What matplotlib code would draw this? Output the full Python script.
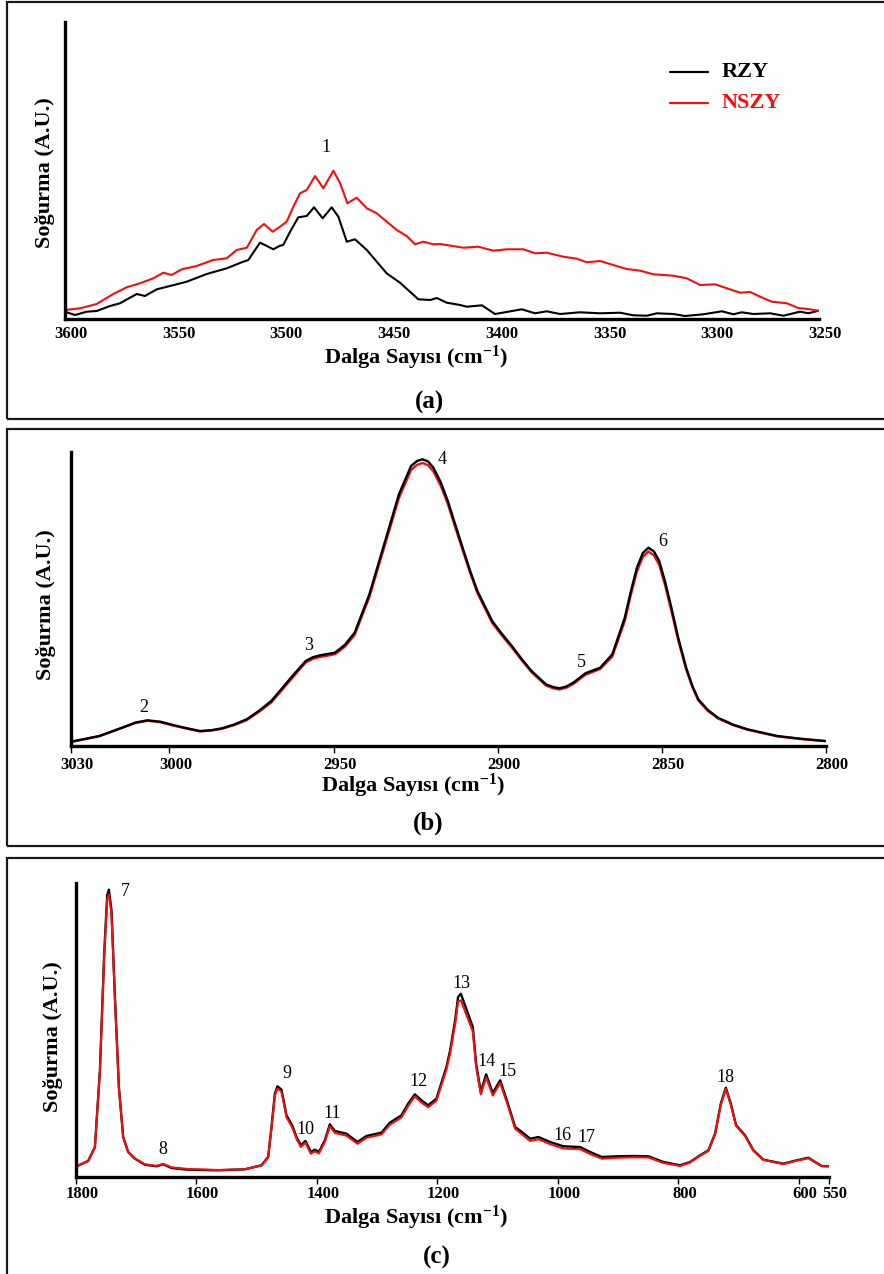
import matplotlib
matplotlib.use('Agg')
import matplotlib.pyplot as plt
from matplotlib.patches import Rectangle
from matplotlib.lines import Line2D
from matplotlib.transforms import ScaledTranslation

plt.rcParams['font.family'] = ['Liberation Serif', 'DejaVu Serif']
plt.rcParams['mathtext.fontset'] = 'custom'
plt.rcParams['mathtext.rm'] = 'Liberation Serif:bold'
plt.rcParams['mathtext.it'] = 'Liberation Serif:italic:bold'
plt.rcParams['mathtext.bf'] = 'Liberation Serif:bold'
plt.rcParams['lines.solid_joinstyle'] = 'round'
plt.rcParams['lines.solid_capstyle'] = 'round'

# ---------------- data (a) ----------------
wn_a_rzy = [3600, 3595.4, 3589.9, 3585.3, 3579.1, 3574.5, 3566.7, 3562.9, 3557.4, 3551.3,
            3543.5, 3534.2, 3524.9, 3518.0, 3514.9, 3511.8, 3509.5, 3507.2, 3503.3, 3500.2,
            3498.7, 3495.5, 3491.7, 3487.8, 3484.4, 3480.4, 3476.2, 3473.1, 3469.2, 3465.4,
            3459.9, 3450.7, 3444.5, 3436.0, 3430.5, 3427.4, 3422.8, 3416.6, 3413.5, 3406.5,
            3400.4, 3395.0, 3388.0, 3381.8, 3376.4, 3370.2, 3360.9, 3351.6, 3342.3, 3336.2,
            3329.9, 3325.3, 3317.6, 3312.2, 3303.7, 3295.1, 3289.7, 3285.9, 3280.5, 3272.7,
            3266.5, 3258.8, 3254.9, 3250.3]
abs_a_rzy = [0.073, 0.040, 0.073, 0.080, 0.130, 0.157, 0.250, 0.230, 0.297, 0.330,
             0.373, 0.450, 0.507, 0.567, 0.590, 0.690, 0.763, 0.740, 0.697, 0.733,
             0.740, 0.873, 1.017, 1.030, 1.117, 1.007, 1.117, 1.023, 0.773, 0.797,
             0.690, 0.457, 0.363, 0.197, 0.190, 0.210, 0.163, 0.140, 0.123, 0.137,
             0.050, 0.070, 0.097, 0.057, 0.077, 0.050, 0.067, 0.057, 0.063, 0.037,
             0.033, 0.057, 0.050, 0.030, 0.047, 0.077, 0.047, 0.067, 0.050, 0.057,
             0.033, 0.073, 0.057, 0.083]
wn_a_nszy = [3600, 3593.0, 3585.3, 3577.6, 3571.4, 3565.2, 3559.0, 3554.4, 3550.5, 3545.8,
             3538.9, 3531.2, 3524.9, 3520.3, 3515.6, 3511.0, 3507.6, 3503.6, 3500.2, 3497.1,
             3494.0, 3490.9, 3487.8, 3483.9, 3480.1, 3475.4, 3472.3, 3468.9, 3464.6, 3459.9,
             3455.3, 3446.0, 3441.4, 3437.5, 3433.7, 3429.0, 3425.9, 3415.1, 3408.1, 3401.2,
             3394.9, 3387.2, 3381.8, 3376.4, 3368.7, 3362.4, 3357.8, 3351.6, 3345.5, 3339.3,
             3333.0, 3326.9, 3317.6, 3311.4, 3305.2, 3298.2, 3292.8, 3286.6, 3282.0, 3277.3,
             3271.9, 3264.9, 3259.6, 3254.1, 3250.3]
abs_a_nszy = [0.090, 0.107, 0.150, 0.250, 0.317, 0.357, 0.407, 0.463, 0.440, 0.497,
              0.530, 0.590, 0.607, 0.690, 0.713, 0.890, 0.950, 0.873, 0.923, 0.973,
              1.123, 1.257, 1.290, 1.430, 1.307, 1.483, 1.357, 1.157, 1.213, 1.107,
              1.057, 0.890, 0.830, 0.747, 0.773, 0.747, 0.750, 0.713, 0.723, 0.683,
              0.697, 0.697, 0.657, 0.663, 0.623, 0.603, 0.567, 0.580, 0.540, 0.500,
              0.483, 0.447, 0.433, 0.407, 0.340, 0.347, 0.307, 0.263, 0.270, 0.223,
              0.173, 0.157, 0.110, 0.097, 0.083]
ticks_a = [3600, 3550, 3500, 3450, 3400, 3350, 3300, 3250]
peaks_a = ['1']
peak_wn_a = [3478.8]
peak_abs_a = [1.71]

# ---------------- data (b) ----------------
wn_b = [3030.0, 3021.4, 3013.9, 3010.3, 3006.7, 3002.8, 2998.9, 2994.8, 2990.7, 2987.3,
        2984.0, 2980.3, 2976.5, 2972.8, 2969.0, 2966.0, 2963.0, 2958.5, 2956.3, 2954.1,
        2949.6, 2946.6, 2943.6, 2939.1, 2934.6, 2930.1, 2926.4, 2924.6, 2922.9, 2921.2,
        2919.6, 2917.4, 2915.2, 2913.0, 2910.7, 2908.5, 2906.2, 2901.7, 2898.7, 2895.7,
        2892.7, 2889.7, 2885.3, 2883.2, 2881.2, 2879.1, 2877.0, 2873.3, 2868.8, 2865.1,
        2861.3, 2859.5, 2857.6, 2855.8, 2854.1, 2852.4, 2850.8, 2849.0, 2847.1, 2845.0,
        2842.6, 2840.7, 2838.9, 2836.0, 2832.9, 2828.4, 2823.9, 2814.9, 2807.6, 2800.3]
abs_b_rzy = [0.043, 0.100, 0.190, 0.235, 0.257, 0.243, 0.210, 0.178, 0.150, 0.158,
             0.177, 0.215, 0.267, 0.350, 0.450, 0.565, 0.683, 0.850, 0.888, 0.907,
             0.933, 1.010, 1.133, 1.517, 2.017, 2.517, 2.800, 2.850, 2.867, 2.845,
             2.783, 2.640, 2.450, 2.220, 1.983, 1.760, 1.550, 1.250, 1.120, 1.000,
             0.870, 0.750, 0.617, 0.590, 0.577, 0.595, 0.633, 0.727, 0.783, 0.917,
             1.283, 1.540, 1.783, 1.930, 1.983, 1.945, 1.850, 1.640, 1.383, 1.080,
             0.783, 0.600, 0.467, 0.360, 0.283, 0.215, 0.167, 0.100, 0.072, 0.050]
abs_b_nszy = [0.040, 0.097, 0.187, 0.231, 0.252, 0.238, 0.205, 0.174, 0.146, 0.154,
              0.172, 0.209, 0.258, 0.340, 0.435, 0.550, 0.665, 0.835, 0.872, 0.890,
              0.918, 0.992, 1.110, 1.490, 1.985, 2.480, 2.760, 2.812, 2.830, 2.808,
              2.745, 2.605, 2.420, 2.192, 1.960, 1.740, 1.530, 1.232, 1.104, 0.985,
              0.857, 0.738, 0.605, 0.578, 0.565, 0.583, 0.620, 0.712, 0.770, 0.895,
              1.250, 1.505, 1.745, 1.892, 1.945, 1.907, 1.810, 1.605, 1.350, 1.055,
              0.765, 0.588, 0.455, 0.352, 0.275, 0.210, 0.162, 0.097, 0.070, 0.048]
ticks_b = [3030, 3000, 2950, 2900, 2850, 2800]
peaks_b = ['2', '3', '4', '5', '6']
peak_wn_b = [3007.9, 2957.5, 2917.0, 2874.5, 2849.7]
peak_abs_b = [0.38, 1.00, 2.86, 0.83, 2.04]

# ---------------- data (c) ----------------
wn_c = [1799.2, 1779.8, 1768.6, 1760.3, 1753.2, 1748.2, 1745.4, 1741.1, 1735.4, 1728.8,
        1721.7, 1713.4, 1702.2, 1685.6, 1666.4, 1655.3, 1641.5, 1613.8, 1563.9, 1519.7,
        1492.1, 1481.0, 1475.5, 1469.9, 1465.5, 1458.9, 1450.6, 1441.2, 1434.0, 1426.7,
        1419.1, 1410.1, 1403.5, 1396.8, 1386.9, 1378.6, 1370.3, 1351.0, 1332.8, 1317.8,
        1292.9, 1279.0, 1259.8, 1248.6, 1237.5, 1226.6, 1215.4, 1201.7, 1185.1, 1178.9,
        1170.6, 1165.7, 1161.2, 1151.2, 1141.3, 1135.8, 1128.0, 1119.2, 1108.1, 1095.9,
        1084.8, 1071.0, 1059.9, 1046.1, 1032.4, 1012.9, 990.9, 963.2, 946.6, 927.2,
        902.2, 874.7, 849.8, 824.9, 797.2, 780.6, 764.0, 750.2, 739.1, 729.6,
        721.3, 713.0, 704.2, 689.3, 675.5, 658.9, 625.7, 603.5, 584.3, 573.1,
        562.0, 548.2]
abs_c_rzy = [0.107, 0.160, 0.300, 1.067, 2.233, 2.817, 2.873, 2.667, 1.800, 0.900,
             0.400, 0.250, 0.183, 0.123, 0.107, 0.127, 0.090, 0.073, 0.067, 0.077,
             0.117, 0.200, 0.500, 0.833, 0.907, 0.873, 0.617, 0.517, 0.400, 0.317,
             0.360, 0.250, 0.273, 0.250, 0.367, 0.527, 0.460, 0.433, 0.350, 0.410,
             0.443, 0.543, 0.617, 0.733, 0.827, 0.767, 0.717, 0.783, 1.100, 1.267,
             1.567, 1.800, 1.833, 1.667, 1.500, 1.133, 0.850, 1.027, 0.840, 0.967,
             0.767, 0.500, 0.450, 0.383, 0.400, 0.350, 0.307, 0.300, 0.250, 0.200,
             0.207, 0.210, 0.207, 0.150, 0.117, 0.150, 0.217, 0.267, 0.433, 0.733,
             0.893, 0.733, 0.517, 0.417, 0.267, 0.173, 0.133, 0.167, 0.193, 0.150,
             0.110, 0.107]
abs_c_nszy = [0.107, 0.160, 0.300, 1.060, 2.210, 2.780, 2.827, 2.630, 1.790, 0.895,
              0.400, 0.250, 0.185, 0.127, 0.112, 0.132, 0.097, 0.080, 0.070, 0.078,
              0.115, 0.195, 0.490, 0.815, 0.885, 0.852, 0.598, 0.497, 0.382, 0.300,
              0.342, 0.233, 0.257, 0.235, 0.350, 0.508, 0.440, 0.413, 0.332, 0.392,
              0.425, 0.522, 0.595, 0.710, 0.805, 0.745, 0.697, 0.763, 1.075, 1.238,
              1.530, 1.755, 1.767, 1.610, 1.455, 1.100, 0.825, 0.995, 0.815, 0.940,
              0.745, 0.482, 0.428, 0.360, 0.378, 0.328, 0.285, 0.278, 0.230, 0.183,
              0.192, 0.197, 0.195, 0.140, 0.110, 0.145, 0.213, 0.262, 0.425, 0.722,
              0.880, 0.722, 0.510, 0.410, 0.262, 0.170, 0.130, 0.163, 0.188, 0.147,
              0.108, 0.105]
ticks_c = [1800, 1600, 1400, 1200, 1000, 800, 600, 550]
peaks_c = ['7', '8', '9', '10', '11', '12', '13', '14', '15', '16', '17', '18']
peak_wn_c = [1718.2, 1655.3, 1449.5, 1419.1, 1374.3, 1232.0, 1159.5, 1118.0, 1083.8, 991.9, 952.0, 722.5]
peak_abs_c = [2.86, 0.27, 1.03, 0.48, 0.63, 0.96, 1.93, 1.15, 1.06, 0.41, 0.39, 1.00]

series_names = ['RZY', 'NSZY']
BLACK = '#000000'
RED = '#f01010'

# ---------------- figure ----------------
W, H = 884, 1274
fig = plt.figure(figsize=(W / 100, H / 100), dpi=100)


def rect(l, r, t, b):
    return [l / W, 1 - b / H, (r - l) / W, (b - t) / H]


def ftext(x, y, s, **kw):
    fig.text(x / W, 1 - y / H, s, **kw)


# panel frames
for top, bot in [(2, 419), (429, 846), (858, 1290)]:
    fig.add_artist(Rectangle((7 / W, 1 - bot / H), (W + 10 - 7) / W, (bot - top) / H,
                             transform=fig.transFigure, fill=False, lw=1.6, ec='#1a1a1a'))

offset = ScaledTranslation(6 / 100, 0, fig.dpi_scale_trans)


def style_axis(ax, xlim, ylim, ticks, ticklen, pad):
    ax.set_xlim(*xlim)
    ax.set_ylim(*ylim)
    for s in ['top', 'right']:
        ax.spines[s].set_visible(False)
    for s in ['left', 'bottom']:
        ax.spines[s].set_linewidth(2.4)
    ax.set_yticks([])
    ax.set_xticks(ticks)
    ax.set_xticklabels([str(t) for t in ticks])
    ax.tick_params(axis='x', direction='out', length=ticklen, width=1.0, pad=pad,
                   labelsize=12)
    for lab in ax.get_xticklabels():
        lab.set_fontweight('bold')
        lab.set_transform(lab.get_transform() + offset)
    ax.patch.set_alpha(0)


# (a)
axA = fig.add_axes(rect(65, 819, 22, 319))
axA.plot(wn_a_rzy, abs_a_rzy, color=BLACK, lw=1.5)
axA.plot(wn_a_nszy, abs_a_nszy, color=RED, lw=1.5)
style_axis(axA, (3600, 3250), (0, 2.97), ticks_a, 0, 5)
for s, x, y in zip(peaks_a, peak_wn_a, peak_abs_a):
    axA.text(x, y, s, ha='center', va='center', fontsize=13)

# legend (a)
for yy, col, name in [(72, BLACK, series_names[0]), (103, RED, series_names[1])]:
    fig.add_artist(Line2D([670 / W, 708 / W], [1 - yy / H, 1 - yy / H],
                          transform=fig.transFigure, color=col, lw=1.6))
    ftext(722, yy, name, ha='left', va='center', fontsize=16, fontweight='bold', color=col)

# (b)
axB = fig.add_axes(rect(71, 826, 452, 746))
axB.plot(wn_b, abs_b_nszy, color=RED, lw=1.7)
axB.plot(wn_b, abs_b_rzy, color=BLACK, lw=1.7)
style_axis(axB, (3030, 2800), (0, 2.94), ticks_b, 5, 3)
for s, x, y in zip(peaks_b, peak_wn_b, peak_abs_b):
    axB.text(x, y, s, ha='center', va='center', fontsize=13)

# (c)
axC = fig.add_axes(rect(76, 829, 883, 1177))
axC.plot(wn_c, abs_c_rzy, color=BLACK, lw=1.7)
axC.plot(wn_c, abs_c_nszy, color=RED, lw=1.5)
style_axis(axC, (1800, 550), (0, 2.94), ticks_c, 5, 1.5)
for s, x, y in zip(peaks_c, peak_wn_c, peak_abs_c):
    axC.text(x, y, s, ha='center', va='center', fontsize=13)

# labels
xlabel = 'Dalga Sayısı (cm$^{-1}$)'
ylabel = 'Soğurma (A.U.)'
for (xl, yl), (yx, yy), (px, py, letter) in zip(
        [(416, 358), (413, 786), (416, 1218)],
        [(45, 173), (46, 605), (53, 1037)],
        [(429, 402, '(a)'), (428, 823, '(b)'), (437, 1257, '(c)')]):
    ftext(xl, yl, xlabel, ha='center', va='center', fontsize=16, fontweight='bold')
    ftext(yx, yy, ylabel, ha='center', va='center', fontsize=16, fontweight='bold',
          rotation=90)
    ftext(px, py, letter, ha='center', va='center', fontsize=18, fontweight='bold')

fig.savefig('out.png', dpi=100)
